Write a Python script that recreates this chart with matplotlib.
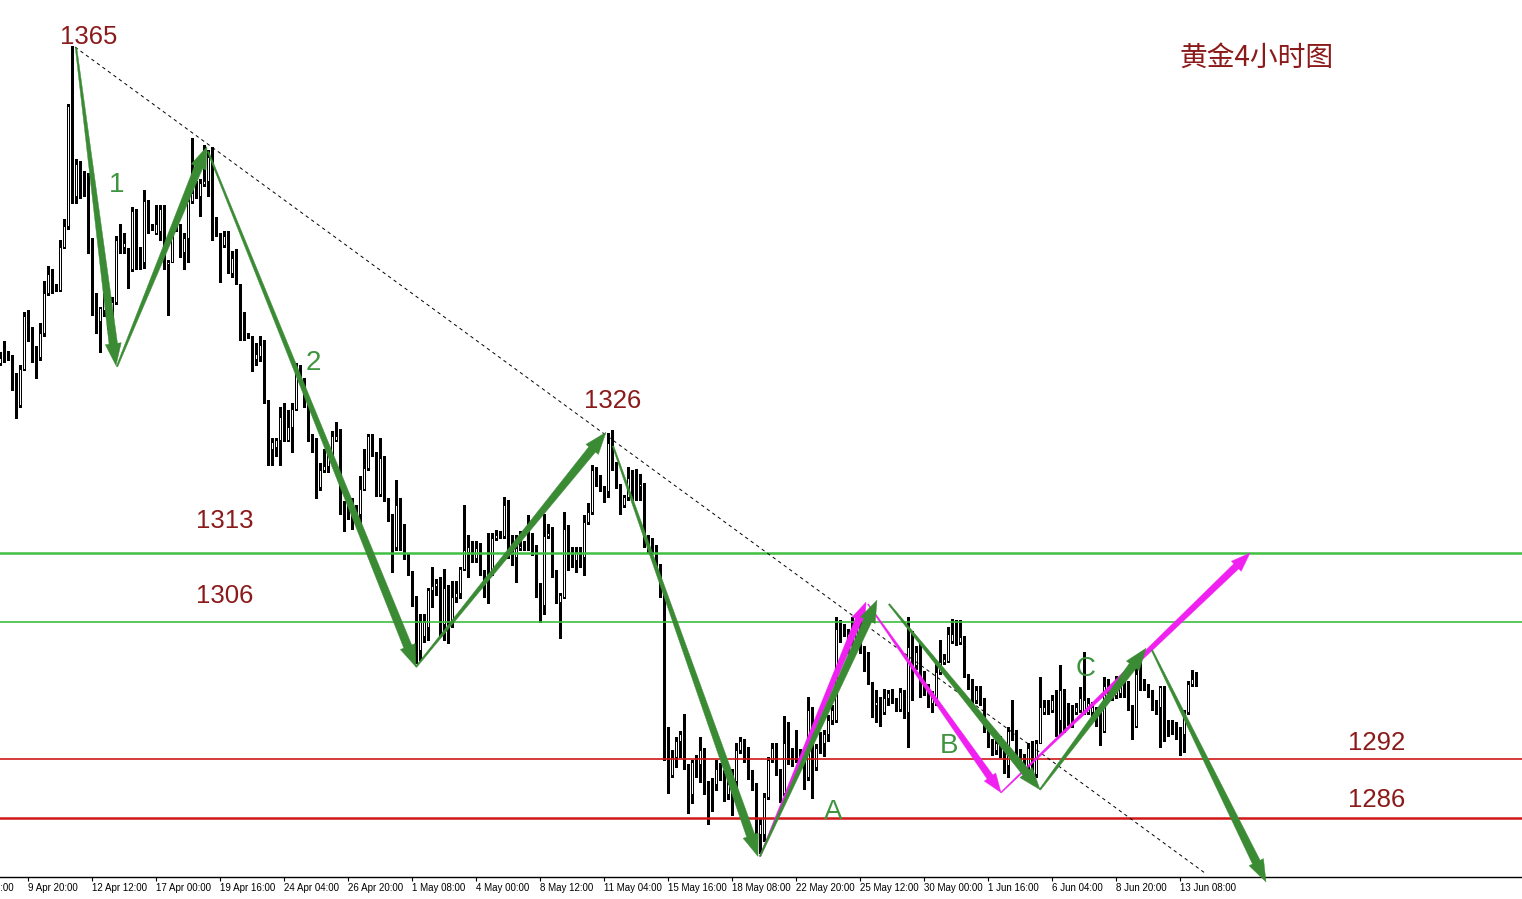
import numpy as np
import matplotlib
matplotlib.use("Agg")
import matplotlib.pyplot as plt
from matplotlib.patches import Polygon

# 4h gold candles, bar index -7 .. 292 (bar 0 = 9 Apr 20:00)
first_bar = -7

opens = [
    1332.4, 1334.1, 1333.4, 1332.9, 1331.2, 1328.1, 1331.8, 1337.0, 1335.3, 1333.5,
    1333.0, 1335.4, 1339.5, 1341.4, 1340.2, 1339.8, 1344.2, 1346.3, 1358.5, 1349.4,
    1352.6, 1349.9, 1350.9, 1345.1, 1338.0, 1336.6, 1337.8, 1338.8, 1336.8, 1338.6,
    1344.9, 1344.2, 1343.7, 1341.9, 1347.8, 1343.1, 1342.7, 1348.9, 1346.3, 1345.6,
    1345.8, 1348.0, 1342.4, 1342.7, 1346.1, 1346.1, 1343.7, 1345.1, 1348.9, 1350.4,
    1349.4, 1350.6, 1350.9, 1353.1, 1347.2, 1345.6, 1344.4, 1345.3, 1341.5, 1343.1,
    1340.4, 1337.2, 1335.3, 1334.7, 1332.8, 1333.1, 1334.2, 1328.3, 1323.6, 1323.8,
    1324.5, 1326.9, 1324.5, 1325.8, 1327.7, 1331.9, 1330.6, 1328.1, 1324.7, 1324.5,
    1319.7, 1321.5, 1321.9, 1322.9, 1324.5, 1324.7, 1317.7, 1317.7, 1317.2, 1317.6,
    1317.0, 1319.5, 1321.7, 1324.9, 1323.1, 1319.0, 1322.7, 1318.6, 1316.5, 1313.6,
    1318.1, 1315.8, 1312.6, 1311.0, 1308.3, 1303.1, 1304.6, 1305.5, 1309.2, 1309.6,
    1309.9, 1305.8, 1309.4, 1305.8, 1308.5, 1308.9, 1311.4, 1313.1, 1313.6, 1312.5,
    1313.5, 1311.1, 1310.6, 1310.9, 1314.5, 1314.7, 1314.7, 1317.9, 1314.2, 1312.6,
    1313.5, 1313.6, 1313.7, 1313.8, 1313.0, 1309.7, 1307.7, 1314.7, 1315.0, 1310.9,
    1308.0, 1308.5, 1315.5, 1313.0, 1312.3, 1313.1, 1312.6, 1316.2, 1317.2, 1321.5,
    1320.8, 1319.6, 1319.3, 1324.2, 1322.2, 1319.8, 1317.9, 1318.7, 1320.6, 1319.7,
    1319.8, 1320.0, 1313.8, 1313.7, 1313.8, 1311.4, 1309.0, 1294.3, 1290.4, 1292.2,
    1293.9, 1294.6, 1291.2, 1288.5, 1291.9, 1291.5, 1293.1, 1289.5, 1289.2, 1289.5,
    1291.2, 1290.5, 1288.5, 1290.5, 1289.8, 1292.9, 1293.9, 1292.9, 1290.5, 1289.3,
    1284.4, 1284.4, 1288.1, 1291.9, 1293.1, 1290.7, 1288.6, 1293.7, 1292.2, 1291.9,
    1292.3, 1291.5, 1290.2, 1297.0, 1291.2, 1294.3, 1293.7, 1294.6, 1296.0, 1296.0,
    1305.3, 1304.9, 1303.1, 1306.2, 1304.5, 1305.8, 1303.1, 1302.6, 1299.7, 1297.5,
    1297.8, 1296.8, 1298.2, 1298.7, 1298.0, 1297.1, 1298.8, 1296.8, 1304.5, 1301.6,
    1302.9, 1300.5, 1299.5, 1297.7, 1298.0, 1300.9, 1301.9, 1302.0, 1304.0, 1304.8,
    1303.9, 1304.4, 1300.5, 1299.9, 1298.0, 1299.0, 1298.0, 1295.3, 1293.6, 1292.9,
    1293.9, 1292.9, 1291.4, 1294.9, 1294.8, 1292.6, 1292.2, 1291.4, 1293.1, 1290.5,
    1293.7, 1296.8, 1297.3, 1297.0, 1297.8, 1296.0, 1299.2, 1297.3, 1297.1, 1296.8,
    1297.0, 1297.0, 1296.8, 1296.8, 1297.0, 1296.8, 1294.9, 1299.0, 1299.0, 1298.5,
    1298.7, 1299.9, 1299.7, 1297.3, 1295.4, 1300.7, 1299.9, 1299.4, 1298.7, 1297.5,
    1297.3, 1299.4, 1295.6, 1295.6, 1295.4, 1294.9, 1294.6, 1296.8, 1299.7, 1300.2,
]

highs = [
    1333.5, 1334.6, 1333.6, 1333.2, 1331.3, 1332.2, 1337.6, 1337.8, 1336.0, 1334.1,
    1336.4, 1340.7, 1342.2, 1341.9, 1340.4, 1344.9, 1347.0, 1358.7, 1364.7, 1353.1,
    1352.9, 1351.9, 1351.7, 1345.1, 1339.5, 1338.1, 1339.5, 1340.0, 1339.1, 1345.3,
    1346.5, 1345.6, 1344.1, 1348.3, 1348.0, 1344.2, 1350.0, 1349.0, 1346.5, 1348.5,
    1348.5, 1348.5, 1342.9, 1346.3, 1346.5, 1346.5, 1345.6, 1349.5, 1355.3, 1350.9,
    1351.1, 1354.6, 1354.1, 1354.4, 1347.2, 1345.6, 1345.8, 1345.8, 1343.8, 1344.0,
    1340.4, 1337.6, 1335.4, 1335.1, 1334.4, 1335.1, 1334.7, 1328.6, 1324.7, 1324.7,
    1327.9, 1328.3, 1327.6, 1328.3, 1332.4, 1332.2, 1330.8, 1328.5, 1325.1, 1324.7,
    1322.2, 1323.6, 1323.3, 1325.4, 1326.3, 1325.6, 1318.3, 1318.1, 1318.6, 1317.9,
    1320.9, 1323.6, 1325.1, 1325.1, 1323.3, 1324.7, 1322.9, 1318.6, 1317.0, 1320.4,
    1318.6, 1316.0, 1312.9, 1311.2, 1308.6, 1306.8, 1306.8, 1309.4, 1311.6, 1310.4,
    1310.6, 1311.4, 1309.7, 1310.2, 1310.2, 1311.6, 1317.9, 1314.8, 1314.2, 1314.2,
    1314.0, 1311.3, 1315.0, 1315.0, 1315.3, 1315.2, 1318.7, 1318.4, 1314.8, 1314.8,
    1315.2, 1314.2, 1316.9, 1315.0, 1313.8, 1309.9, 1317.0, 1316.0, 1315.7, 1311.3,
    1308.9, 1317.2, 1315.9, 1313.6, 1313.6, 1313.6, 1316.9, 1318.1, 1322.0, 1321.8,
    1321.0, 1319.8, 1325.2, 1325.5, 1322.3, 1320.0, 1318.9, 1321.8, 1321.5, 1321.6,
    1321.1, 1320.1, 1314.8, 1314.5, 1313.8, 1311.9, 1309.0, 1295.3, 1292.9, 1294.3,
    1294.9, 1296.6, 1291.5, 1291.9, 1292.4, 1294.3, 1293.1, 1289.8, 1290.1, 1291.9,
    1291.6, 1290.9, 1289.9, 1291.0, 1293.6, 1294.3, 1294.1, 1293.2, 1290.9, 1289.6,
    1285.9, 1288.6, 1292.2, 1293.6, 1293.6, 1291.0, 1296.4, 1295.8, 1293.1, 1295.0,
    1293.0, 1291.9, 1298.3, 1297.3, 1293.5, 1294.8, 1295.0, 1296.5, 1297.5, 1306.5,
    1306.2, 1305.8, 1305.3, 1306.5, 1306.3, 1306.2, 1303.5, 1302.9, 1299.9, 1299.0,
    1298.3, 1299.2, 1299.0, 1299.2, 1298.2, 1299.3, 1299.0, 1306.5, 1305.1, 1303.5,
    1303.8, 1301.0, 1299.7, 1298.9, 1301.7, 1304.1, 1302.7, 1305.5, 1306.3, 1306.2,
    1306.2, 1304.6, 1300.7, 1300.2, 1299.5, 1299.5, 1298.2, 1295.6, 1294.1, 1294.0,
    1294.4, 1293.3, 1295.3, 1298.0, 1295.0, 1293.0, 1292.5, 1293.6, 1293.9, 1294.0,
    1300.4, 1298.0, 1298.0, 1298.5, 1299.0, 1301.6, 1299.2, 1297.7, 1297.5, 1297.7,
    1299.4, 1302.9, 1298.2, 1297.8, 1297.3, 1297.3, 1300.4, 1300.2, 1299.5, 1300.5,
    1300.4, 1300.2, 1300.0, 1297.5, 1301.7, 1301.9, 1300.2, 1299.7, 1299.0, 1298.0,
    1299.5, 1299.5, 1296.0, 1296.0, 1295.8, 1295.3, 1297.0, 1300.0, 1301.1, 1300.9,
]

lows = [
    1332.2, 1332.5, 1332.7, 1329.6, 1326.8, 1327.9, 1331.6, 1334.6, 1332.5, 1330.8,
    1332.7, 1335.1, 1339.3, 1339.5, 1339.7, 1339.7, 1344.1, 1346.0, 1348.7, 1348.7,
    1349.2, 1349.4, 1343.6, 1337.3, 1335.4, 1333.5, 1337.1, 1335.8, 1336.1, 1338.4,
    1343.6, 1343.6, 1340.0, 1341.7, 1341.9, 1341.9, 1342.0, 1345.6, 1345.9, 1345.5,
    1344.9, 1341.9, 1337.3, 1342.6, 1345.8, 1343.2, 1341.9, 1342.6, 1348.7, 1349.2,
    1347.3, 1350.4, 1349.4, 1344.9, 1345.3, 1340.6, 1344.2, 1341.5, 1341.1, 1340.4,
    1334.7, 1334.7, 1334.9, 1331.5, 1332.2, 1332.6, 1328.3, 1322.0, 1322.0, 1322.9,
    1322.0, 1324.4, 1324.4, 1323.3, 1327.6, 1330.4, 1327.9, 1324.4, 1323.3, 1318.6,
    1319.4, 1321.3, 1321.3, 1322.7, 1324.4, 1317.0, 1315.2, 1316.5, 1315.4, 1316.1,
    1316.1, 1319.4, 1321.5, 1322.9, 1318.8, 1318.8, 1318.3, 1316.3, 1311.1, 1313.3,
    1313.3, 1312.4, 1310.8, 1307.6, 1301.8, 1302.1, 1303.9, 1304.1, 1307.5, 1308.7,
    1304.5, 1304.1, 1303.8, 1305.5, 1308.0, 1308.4, 1311.3, 1310.6, 1312.1, 1312.1,
    1310.8, 1308.5, 1307.9, 1310.8, 1314.3, 1314.5, 1314.5, 1312.5, 1311.8, 1310.1,
    1313.3, 1313.3, 1313.3, 1312.8, 1308.5, 1306.0, 1306.8, 1314.5, 1310.6, 1307.9,
    1304.3, 1308.4, 1311.3, 1311.6, 1311.1, 1311.6, 1310.8, 1316.0, 1317.0, 1319.8,
    1319.3, 1318.2, 1318.7, 1321.5, 1319.6, 1317.0, 1317.7, 1318.4, 1318.4, 1318.4,
    1318.4, 1313.6, 1313.0, 1313.0, 1311.4, 1308.5, 1291.9, 1288.6, 1290.2, 1291.2,
    1292.2, 1291.0, 1286.5, 1287.5, 1290.2, 1289.7, 1288.5, 1285.4, 1286.7, 1288.9,
    1289.9, 1287.7, 1287.9, 1286.3, 1289.2, 1292.6, 1291.7, 1290.0, 1288.9, 1283.4,
    1282.4, 1283.7, 1287.9, 1291.7, 1290.4, 1287.6, 1288.4, 1291.5, 1291.3, 1291.7,
    1291.2, 1289.0, 1289.9, 1288.0, 1290.9, 1292.6, 1292.3, 1293.9, 1295.6, 1295.8,
    1303.9, 1304.5, 1302.8, 1303.6, 1303.9, 1302.8, 1301.0, 1299.7, 1296.3, 1295.8,
    1295.4, 1296.6, 1297.5, 1297.7, 1296.9, 1296.9, 1296.2, 1293.2, 1298.0, 1301.2,
    1298.3, 1298.5, 1297.3, 1296.8, 1297.5, 1300.7, 1301.7, 1301.9, 1303.8, 1303.6,
    1303.7, 1300.4, 1299.2, 1297.7, 1297.7, 1297.5, 1294.8, 1293.2, 1292.4, 1292.5,
    1292.2, 1290.6, 1290.2, 1294.0, 1291.5, 1291.2, 1290.6, 1290.4, 1290.4, 1290.2,
    1293.6, 1296.6, 1296.6, 1296.8, 1294.4, 1294.6, 1294.8, 1295.5, 1295.3, 1296.6,
    1296.8, 1296.6, 1296.6, 1296.0, 1295.4, 1293.4, 1294.8, 1298.7, 1298.0, 1298.2,
    1298.3, 1298.3, 1297.0, 1294.1, 1295.3, 1299.0, 1299.0, 1298.3, 1297.0, 1296.6,
    1293.2, 1293.9, 1294.4, 1294.6, 1294.1, 1292.4, 1292.7, 1296.6, 1299.5, 1299.5,
]

closes = [
    1332.9, 1333.4, 1332.9, 1331.2, 1328.1, 1331.8, 1337.1, 1335.3, 1333.4, 1333.0,
    1335.4, 1339.5, 1341.4, 1340.0, 1339.8, 1344.2, 1346.3, 1358.5, 1349.4, 1352.6,
    1349.7, 1349.7, 1345.1, 1338.0, 1336.6, 1338.0, 1338.8, 1336.8, 1338.6, 1344.9,
    1344.4, 1344.6, 1341.9, 1347.8, 1343.1, 1342.7, 1348.9, 1346.3, 1346.1, 1346.5,
    1348.0, 1342.6, 1342.7, 1345.6, 1346.0, 1343.7, 1345.1, 1348.9, 1349.7, 1349.4,
    1350.7, 1350.9, 1353.3, 1347.2, 1345.6, 1344.4, 1345.3, 1342.0, 1343.1, 1340.4,
    1337.2, 1335.1, 1335.1, 1332.6, 1333.3, 1334.2, 1328.3, 1323.6, 1324.3, 1324.5,
    1326.9, 1324.5, 1325.8, 1327.7, 1331.9, 1330.4, 1328.1, 1324.5, 1324.5, 1319.7,
    1321.5, 1321.9, 1322.9, 1324.9, 1324.9, 1317.6, 1317.4, 1317.2, 1317.6, 1317.0,
    1319.5, 1321.7, 1324.9, 1323.1, 1319.0, 1322.7, 1318.5, 1316.5, 1313.6, 1317.9,
    1315.8, 1312.6, 1311.0, 1308.3, 1303.3, 1306.0, 1306.0, 1309.2, 1309.6, 1309.9,
    1305.8, 1309.4, 1305.8, 1308.5, 1308.9, 1311.4, 1313.3, 1313.6, 1312.5, 1313.5,
    1310.9, 1310.6, 1310.9, 1314.5, 1314.8, 1314.8, 1317.9, 1312.6, 1312.6, 1313.5,
    1313.7, 1313.7, 1313.8, 1313.0, 1309.7, 1307.7, 1314.7, 1315.0, 1310.9, 1308.0,
    1308.7, 1315.5, 1313.0, 1312.3, 1313.1, 1312.6, 1316.2, 1317.2, 1321.5, 1320.8,
    1319.4, 1319.3, 1324.2, 1322.2, 1319.8, 1317.9, 1318.7, 1320.6, 1319.8, 1319.8,
    1320.0, 1313.8, 1313.7, 1313.8, 1311.6, 1308.7, 1294.3, 1290.5, 1292.2, 1293.9,
    1294.6, 1291.2, 1288.5, 1291.7, 1291.5, 1292.9, 1289.5, 1287.6, 1287.6, 1291.0,
    1290.5, 1288.5, 1289.5, 1286.9, 1292.9, 1293.9, 1292.9, 1290.5, 1289.2, 1284.0,
    1285.4, 1288.1, 1291.9, 1293.1, 1290.7, 1288.6, 1293.7, 1291.9, 1291.9, 1292.0,
    1291.5, 1290.2, 1297.0, 1291.2, 1293.1, 1293.1, 1294.6, 1296.0, 1297.0, 1305.3,
    1304.8, 1304.6, 1304.8, 1304.5, 1305.8, 1303.1, 1302.6, 1301.2, 1297.5, 1297.8,
    1296.8, 1298.2, 1298.7, 1298.0, 1297.3, 1298.8, 1296.8, 1303.4, 1301.6, 1302.9,
    1300.4, 1299.5, 1297.7, 1298.2, 1300.9, 1301.9, 1302.2, 1304.8, 1304.8, 1303.8,
    1304.4, 1300.5, 1299.9, 1298.0, 1299.0, 1298.0, 1295.3, 1293.4, 1293.2, 1293.6,
    1293.2, 1291.2, 1294.9, 1294.2, 1292.4, 1292.2, 1291.2, 1293.1, 1290.7, 1293.7,
    1297.3, 1297.3, 1296.8, 1298.0, 1294.6, 1299.0, 1295.8, 1296.0, 1295.8, 1297.3,
    1298.2, 1298.0, 1297.7, 1297.3, 1296.3, 1294.9, 1299.5, 1299.5, 1298.5, 1299.9,
    1300.0, 1298.7, 1297.3, 1295.4, 1300.7, 1299.9, 1299.4, 1298.7, 1297.5, 1297.3,
    1299.4, 1295.4, 1295.3, 1295.1, 1294.6, 1294.4, 1296.8, 1299.7, 1300.2, 1299.7,
]

# time axis: one label every 16 bars, first one (mostly off-screen) at bar -16
tick_step = 16
tick_labels = ["5 Apr 04:00", "9 Apr 20:00", "12 Apr 12:00", "17 Apr 00:00", "19 Apr 16:00",
               "24 Apr 04:00", "26 Apr 20:00", "1 May 08:00", "4 May 00:00", "8 May 12:00",
               "11 May 04:00", "15 May 16:00", "18 May 08:00", "22 May 20:00", "25 May 12:00",
               "30 May 00:00", "1 Jun 16:00", "6 Jun 04:00", "8 Jun 20:00", "13 Jun 08:00"]

# support / resistance levels
green_levels = [1313, 1306]
red_levels = [1292, 1286]

# trend line (bar, price)
trend_line = [(11.75, 1364.55), (294.25, 1280.4)]

# wave arrows (bar, price) start -> end
green_arrows = [
    ((12, 1364.5), (22, 1332.1)),
    ((22.25, 1332.0), (44.75, 1354.4)),
    ((45, 1353.9), (97, 1301.4)),
    ((97, 1301.4), (144.5, 1325.3)),
    ((146.25, 1323.9), (182.5, 1282.1)),
    ((183, 1282.1), (212.25, 1308.2)),
    ((215.25, 1307.8), (253, 1288.9)),
    ((253, 1288.9), (279.5, 1303.3)),
    ((281, 1303.1), (309.5, 1279.5)),
]
magenta_arrows = [
    ((183, 1282.1), (209.5, 1308.0)),
    ((210, 1307.8), (243.25, 1288.6)),
    ((243.25, 1288.6), (305.5, 1313.0)),
]

# text labels (bar, price, text)
price_labels = [(15.25, 1365.6, "1365"), (146.25, 1328.5, "1326"), (49.25, 1316.3, "1313"),
                (49.25, 1308.6, "1306"), (337.25, 1293.7, "1292"), (337.25, 1287.8, "1286")]
wave_labels = [(22.25, 1350.5, "1"), (71.25, 1332.4, "2"), (201.25, 1286.6, "A"),
               (230.25, 1293.3, "B"), (264.5, 1301.2, "C")]
title_text = "黄金4小时图"
title_pos = (307.25, 1363.5)

DARK_RED = "#8B1A1A"
ARROW_GREEN = "#3B8B35"
LABEL_GREEN = "#3F953F"
MAGENTA = "#F020F0"


def taper_arrow(ax, p0, p1, color, w0, w1, hw, hl, z=6):
    # build the arrow in pixel space so the taper looks right, then go back to data
    t = ax.transData
    a = t.transform(p0)
    b = t.transform(p1)
    d = b - a
    u = d / np.hypot(*d)
    n = np.array([-u[1], u[0]])
    base = b - u * hl
    pts = [a + n * w0 / 2, base + n * w1 / 2, base + n * hw / 2, b,
           base - n * hw / 2, base - n * w1 / 2, a - n * w0 / 2]
    pts = t.inverted().transform(np.array(pts))
    ax.add_patch(Polygon(pts, closed=True, facecolor=color, edgecolor=color,
                         linewidth=0.3, zorder=z, clip_on=False))


fig = plt.figure(figsize=(15.22, 8.99), dpi=100)
ax = fig.add_axes([0, 22 / 899, 1, 877 / 899])

# ticks first: set_xticks would otherwise widen the view limits
ticks = [tick_step * (k - 1) for k in range(len(tick_labels))]
ax.set_xticks(ticks)
ax.set_xticklabels(tick_labels, fontsize=7, family="Liberation Sans", ha="left")
ax.set_yticks([])
ax.set_xlim(-7, 373.5)
ax.set_ylim(1280.0, 1369.34)
ax.set_autoscale_on(False)

# the first label sits left of the view, only its tail shows
ax.annotate(tick_labels[0], xy=(ticks[0], 0), xycoords=("data", "axes fraction"),
            xytext=(0, -4.5), textcoords="offset points", ha="left", va="top",
            fontsize=7, family="Liberation Sans", annotation_clip=False)

o = np.array(opens)
h = np.array(highs)
l = np.array(lows)
c = np.array(closes)
x = first_bar + np.arange(len(c))
h = np.maximum(h, np.maximum(o, c))
l = np.minimum(l, np.minimum(o, c))

# candles (crisp, like the terminal draws them)
ax.vlines(x, l, h, color="black", linewidth=0.75, zorder=2, antialiased=False)
body_bottom = np.minimum(o, c)
body_height = np.maximum(np.abs(c - o), 0.08)
faces = ["white" if cc >= oo else "black" for oo, cc in zip(o, c)]
ax.bar(x, body_height, bottom=body_bottom, width=0.5, color=faces,
       edgecolor="black", linewidth=0.72, zorder=3, antialiased=False)

# levels
ax.axhline(green_levels[0], color="#40BF40", linewidth=1.8, zorder=4)
ax.axhline(green_levels[1], color="#40BF40", linewidth=1.2, zorder=4)
ax.axhline(red_levels[0], color="#D01818", linewidth=1.2, zorder=4)
ax.axhline(red_levels[1], color="#D01818", linewidth=1.8, zorder=4)

# dotted trend line
ax.plot([trend_line[0][0], trend_line[1][0]], [trend_line[0][1], trend_line[1][1]],
        color="black", linewidth=0.7, linestyle=(0, (3.5, 3.5)), zorder=5)

ax.set_xlim(-7, 373.5)
ax.set_ylim(1280.0, 1369.34)

# arrows
for p0, p1 in magenta_arrows:
    taper_arrow(ax, p0, p1, MAGENTA, 1.0, 7, 14, 19, z=6)
for p0, p1 in green_arrows:
    taper_arrow(ax, p0, p1, ARROW_GREEN, 1.5, 8.5, 16, 22, z=7)

# texts
for xi, yi, s in price_labels:
    ax.text(xi, yi, s, color=DARK_RED, fontsize=18.5, family="Liberation Sans",
            ha="center", va="center", zorder=8)
for xi, yi, s in wave_labels:
    ax.text(xi, yi, s, color=LABEL_GREEN, fontsize=20, family="Liberation Sans",
            ha="center", va="center", zorder=8)
ax.text(title_pos[0], title_pos[1], title_text, color=DARK_RED, fontsize=20,
        family=["Noto Sans CJK SC", "DejaVu Sans"], ha="center", va="center", zorder=8)

# axes styling
for side in ["top", "left", "right"]:
    ax.spines[side].set_visible(False)
ax.spines["bottom"].set_linewidth(1.0)
ax.spines["bottom"].set_color("black")
ax.tick_params(axis="x", direction="out", length=3, width=0.8, pad=1.5, colors="black")

fig.savefig("out.png", dpi=100, facecolor="white")
